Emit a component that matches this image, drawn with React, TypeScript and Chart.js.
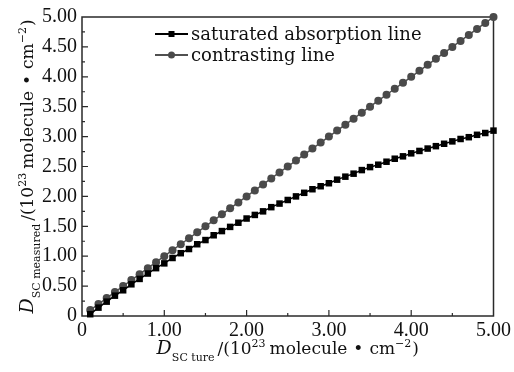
import React, { useEffect, useRef } from "react";
import { Chart, registerables } from "chart.js";

Chart.register(...registerables);

const xValues = [
  0.1, 0.2, 0.3, 0.4, 0.5, 0.6, 0.7, 0.8, 0.9, 1.0,
  1.1, 1.2, 1.3, 1.4, 1.5, 1.6, 1.7, 1.8, 1.9, 2.0,
  2.1, 2.2, 2.3, 2.4, 2.5, 2.6, 2.7, 2.8, 2.9, 3.0,
  3.1, 3.2, 3.3, 3.4, 3.5, 3.6, 3.7, 3.8, 3.9, 4.0,
  4.1, 4.2, 4.3, 4.4, 4.5, 4.6, 4.7, 4.8, 4.9, 5.0,
];

const saturatedValues = [
  0.03, 0.14, 0.24, 0.34, 0.43, 0.53, 0.62, 0.71, 0.8, 0.88,
  0.97, 1.05, 1.12, 1.2, 1.27, 1.35, 1.42, 1.49, 1.56, 1.63,
  1.69, 1.75, 1.82, 1.88, 1.94, 2.0, 2.06, 2.12, 2.17, 2.22,
  2.28, 2.33, 2.38, 2.44, 2.49, 2.53, 2.58, 2.63, 2.67, 2.72,
  2.76, 2.8, 2.84, 2.88, 2.92, 2.96, 2.99, 3.03, 3.06, 3.1,
];

const contrastingValues = [
  0.1, 0.2, 0.3, 0.4, 0.5, 0.6, 0.7, 0.8, 0.9, 1.0,
  1.1, 1.2, 1.3, 1.4, 1.5, 1.6, 1.7, 1.8, 1.9, 2.0,
  2.1, 2.2, 2.3, 2.4, 2.5, 2.6, 2.7, 2.8, 2.9, 3.0,
  3.1, 3.2, 3.3, 3.4, 3.5, 3.6, 3.7, 3.8, 3.9, 4.0,
  4.1, 4.2, 4.3, 4.4, 4.5, 4.6, 4.7, 4.8, 4.9, 5.0,
];

const seriesNames = ["saturated absorption line", "contrasting line"];

const FONT = "'DejaVu Serif', serif";
const TICK_FONT = "'Liberation Serif', serif";
const TICK_SIZE = 20;
const TITLE_SIZE = 17;
const SUB_SIZE = 11;
const LEGEND_SIZE = 18;

type Seg = { text: string; size: number; italic?: boolean; dy: number; gap?: number };

const xTitleSegs: Seg[] = [
  { text: "D", size: TITLE_SIZE + 2, italic: true, dy: 0 },
  { text: "SC ture", size: SUB_SIZE, dy: 7, gap: 3 },
  { text: "/(10", size: TITLE_SIZE, dy: 0 },
  { text: "23", size: SUB_SIZE, dy: -7, gap: 4 },
  { text: "molecule", size: TITLE_SIZE, dy: 0, gap: 6 },
  { text: "\u2022", size: TITLE_SIZE, dy: 0, gap: 6 },
  { text: "cm", size: TITLE_SIZE, dy: 0 },
  { text: "\u22122", size: SUB_SIZE, dy: -7, gap: 1 },
  { text: ")", size: TITLE_SIZE, dy: 0 },
];

const yTitleSegs: Seg[] = [
  { text: "D", size: TITLE_SIZE + 2, italic: true, dy: 0 },
  { text: "SC measured", size: SUB_SIZE, dy: 7, gap: 3 },
  { text: "/(10", size: TITLE_SIZE, dy: 0 },
  { text: "23", size: SUB_SIZE, dy: -7, gap: 4 },
  { text: "molecule", size: TITLE_SIZE, dy: 0, gap: 6 },
  { text: "\u2022", size: TITLE_SIZE, dy: 0, gap: 6 },
  { text: "cm", size: TITLE_SIZE, dy: 0 },
  { text: "\u22122", size: SUB_SIZE, dy: -7, gap: 1 },
  { text: ")", size: TITLE_SIZE, dy: 0 },
];

function segFont(s: Seg) {
  return `${s.italic ? "italic " : ""}${s.size}px ${FONT}`;
}

function drawRich(ctx: CanvasRenderingContext2D, segs: Seg[], cx: number, baseY: number) {
  let total = 0;
  for (const s of segs) {
    ctx.font = segFont(s);
    total += ctx.measureText(s.text).width + (s.gap || 0);
  }
  let x = cx - total / 2;
  ctx.textAlign = "left";
  ctx.textBaseline = "alphabetic";
  for (const s of segs) {
    ctx.font = segFont(s);
    ctx.fillText(s.text, x, baseY + s.dy);
    x += ctx.measureText(s.text).width + (s.gap || 0);
  }
}

const decorPlugin = {
  id: "decor",
  beforeDatasetsDraw(chart: any) {
    const { ctx, chartArea } = chart;
    const xs = chart.scales.x;
    const ys = chart.scales.y;
    ctx.save();
    ctx.strokeStyle = "#2a2a2a";
    ctx.lineWidth = 1.5;
    ctx.strokeRect(chartArea.left, chartArea.top, chartArea.right - chartArea.left, chartArea.bottom - chartArea.top);
    ctx.lineWidth = 1.2;
    ctx.beginPath();
    for (let i = 1; i < 20; i++) {
      const v = i * 0.25;
      const len = i % 2 === 0 ? 6 : 3;
      const py = ys.getPixelForValue(v);
      ctx.moveTo(chartArea.left, py);
      ctx.lineTo(chartArea.left + len, py);
    }
    for (let i = 1; i < 10; i++) {
      const v = i * 0.5;
      const len = i % 2 === 0 ? 6 : 3;
      const px = xs.getPixelForValue(v);
      ctx.moveTo(px, chartArea.bottom);
      ctx.lineTo(px, chartArea.bottom - len);
    }
    ctx.stroke();
    ctx.restore();
  },
  afterDraw(chart: any) {
    const { ctx, chartArea } = chart;
    ctx.save();
    ctx.fillStyle = "#111";
    // x title
    drawRich(ctx, xTitleSegs, (chartArea.left + chartArea.right) / 2, chartArea.bottom + 38);
    // y title
    ctx.save();
    ctx.translate(chartArea.left - 49, (chartArea.top + chartArea.bottom) / 2);
    ctx.rotate(-Math.PI / 2);
    drawRich(ctx, yTitleSegs, 0, 0);
    ctx.restore();

    // legend
    const ds = chart.data.datasets;
    const lx0 = chartArea.left + 73;
    const lx1 = chartArea.left + 106;
    const rows = [chartArea.top + 17, chartArea.top + 38];
    ds.forEach((d: any, i: number) => {
      const y = rows[i];
      ctx.strokeStyle = d.borderColor;
      ctx.lineWidth = 2;
      ctx.beginPath();
      ctx.moveTo(lx0, y);
      ctx.lineTo(lx1, y);
      ctx.stroke();
      ctx.fillStyle = d.pointBackgroundColor;
      const mx = (lx0 + lx1) / 2;
      if (d.pointStyle === "rect") {
        ctx.fillRect(mx - 3, y - 3, 6, 6);
      } else {
        ctx.beginPath();
        ctx.arc(mx, y, 3.5, 0, Math.PI * 2);
        ctx.fill();
      }
      ctx.fillStyle = "#111";
      ctx.font = `${LEGEND_SIZE}px ${FONT}`;
      ctx.textAlign = "left";
      ctx.textBaseline = "middle";
      ctx.fillText(d.label, lx1 + 3, y + 1);
    });
    ctx.restore();
  },
};

export default function App() {
  const ref = useRef<HTMLCanvasElement | null>(null);
  useEffect(() => {
    document.body.style.margin = "0";
    const canvas = ref.current;
    if (!canvas) return;
    const chart = new Chart(canvas, {
      type: "line",
      data: {
        datasets: [
          {
            label: seriesNames[0],
            data: xValues.map((x, i) => ({ x, y: saturatedValues[i] })),
            borderColor: "#000000",
            backgroundColor: "#000000",
            pointBackgroundColor: "#000000",
            pointBorderColor: "#000000",
            pointStyle: "rect",
            pointRadius: 4.6,
            pointBorderWidth: 0,
            borderWidth: 1.5,
            clip: false,
          },
          {
            label: seriesNames[1],
            data: xValues.map((x, i) => ({ x, y: contrastingValues[i] })),
            borderColor: "#505050",
            backgroundColor: "#4a4a4a",
            pointBackgroundColor: "#4a4a4a",
            pointBorderColor: "#4a4a4a",
            pointStyle: "circle",
            pointRadius: 4,
            pointBorderWidth: 0,
            borderWidth: 1.5,
            clip: false,
          },
        ],
      },
      options: {
        responsive: false,
        animation: false,
        layout: { padding: { left: 0, right: 20, top: 12, bottom: 0 } },
        plugins: { legend: { display: false }, tooltip: { enabled: false } },
        scales: {
          x: {
            type: "linear",
            min: 0,
            max: 5,
            grid: { display: false, drawTicks: false },
            border: { display: false },
            ticks: {
              stepSize: 1,
              padding: 3,
              color: "#111",
              maxRotation: 0,
              font: { family: TICK_FONT, size: TICK_SIZE },
              callback: (v: any) => (v === 0 ? "0" : Number(v).toFixed(2)),
            },
            afterFit: (s: any) => {
              s.height = 56;
            },
          },
          y: {
            type: "linear",
            min: 0,
            max: 5,
            grid: { display: false, drawTicks: false },
            border: { display: false },
            ticks: {
              stepSize: 0.5,
              padding: 5,
              color: "#111",
              font: { family: TICK_FONT, size: TICK_SIZE },
              callback: (v: any) => (v === 0 ? "0" : Number(v).toFixed(2)),
            },
            afterFit: (s: any) => {
              s.width = 82;
            },
          },
        },
      },
      plugins: [decorPlugin],
    } as any);
    return () => chart.destroy();
  }, []);
  return (
    <div style={{ width: 514, height: 372 }}>
      <canvas ref={ref} width={514} height={372} style={{ display: "block" }} />
    </div>
  );
}
